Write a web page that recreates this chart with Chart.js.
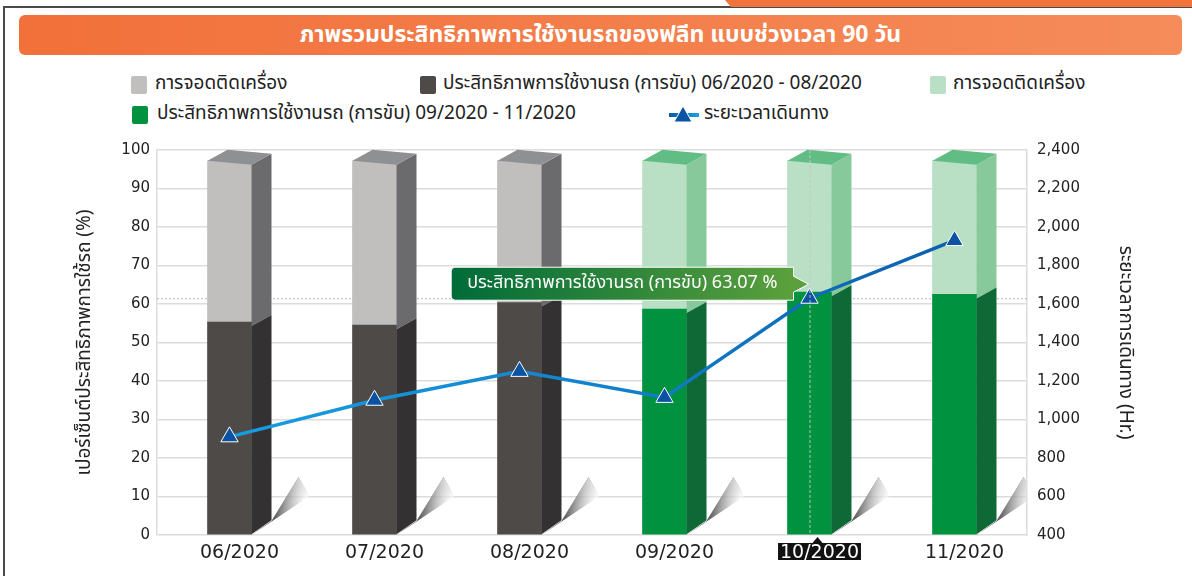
<!DOCTYPE html>
<html>
<head>
<meta charset="utf-8">
<script src="https://cdn.jsdelivr.net/npm/chart.js@4"></script>
<style>
  body { margin:0; width:1192px; height:576px; overflow:hidden; background:#fff; position:relative;
         font-family:"Noto Sans Thai","Noto Sans Thai UI","Noto Sans","DejaVu Sans",sans-serif; }
  .frame { position:absolute; left:3px; top:6px; right:0; bottom:0; border-left:2px solid #4a4a4a; border-top:2px solid #4a4a4a; }
  .tab { position:absolute; top:0; left:725px; width:467px; height:7px; background:#f0743b; clip-path:polygon(0 0,100% 0,100% 100%,6px 100%); }
  .header { position:absolute; left:19px; top:15px; width:1163px; height:40px; border-radius:6px;
            background:linear-gradient(90deg,#f2703a,#f58c5a); color:#fff; font-weight:bold; font-size:23px;
            text-align:center; line-height:40px; }
  .lg { position:absolute; font-size:19px; color:#222; white-space:nowrap; line-height:22px; }
  .sw { position:absolute; width:16px; height:18px; border-radius:2px; }
  #wrap { position:absolute; left:0; top:130px; width:1192px; height:446px; }
</style>
</head>
<body>
<div class="frame"></div>
<div class="tab"></div>
<div class="header">ภาพรวมประสิทธิภาพการใช้งานรถของฟลีท แบบช่วงเวลา 90 วัน</div>

<div class="sw" style="left:131px;top:76px;background:#c0bfbe"></div>
<div class="lg" style="left:155px;top:73px">การจอดติดเครื่อง</div>
<div class="sw" style="left:420px;top:76px;background:#4e4a47"></div>
<div class="lg" style="left:443px;top:73px">ประสิทธิภาพการใช้งานรถ (การขับ) 06/2020 - 08/2020</div>
<div class="sw" style="left:930px;top:76px;background:#b9dfc5"></div>
<div class="lg" style="left:953px;top:73px">การจอดติดเครื่อง</div>
<div class="sw" style="left:132px;top:106px;background:#00923f"></div>
<div class="lg" style="left:157px;top:103px">ประสิทธิภาพการใช้งานรถ (การขับ) 09/2020 - 11/2020</div>
<svg style="position:absolute;left:668px;top:105px" width="34" height="20">
  <defs><linearGradient id="lgl" x1="0" x2="1"><stop offset="0" stop-color="#0a5aa8"/><stop offset="1" stop-color="#1aa0e0"/></linearGradient></defs>
  <rect x="1" y="8" width="30" height="4" fill="url(#lgl)"/>
  <polygon points="15,1 24,17 6,17" fill="#0b54a3" stroke="#fff" stroke-width="1"/>
</svg>
<div class="lg" style="left:704px;top:103px">ระยะเวลาเดินทาง</div>

<div id="wrap"><canvas id="chart" width="1192" height="446"></canvas></div>

<script>
var months = ["06/2020", "07/2020", "08/2020", "09/2020", "10/2020", "11/2020"];
var drivePct = [55.3, 54.5, 60.4, 58.7, 63.07, 62.5];   // การขับ
var idlePct = [41.9, 42.7, 36.8, 38.5, 34.13, 34.7];    // การจอดติดเครื่อง
var travelHours = [910, 1100, 1250, 1115, 1630, 1930];  // ระยะเวลาเดินทาง
var splitAt = 3;     // 06-08 old period, 09-11 new period
var focusIndex = 4;  // hovered month

var thaiFont = '"Noto Sans Thai","Noto Sans Thai UI","Noto Sans","DejaVu Sans",sans-serif';
var DX = 20, DY = 11, SLANT = 4;

function part(arr, first) {
  return arr.map(function(v, i) { return (i < splitAt) === first ? v : null; });
}

function poly(ctx, pts, color) {
  ctx.beginPath();
  ctx.moveTo(pts[0][0], pts[0][1]);
  for (var i = 1; i < pts.length; i++) ctx.lineTo(pts[i][0], pts[i][1]);
  ctx.closePath();
  ctx.fillStyle = color;
  ctx.fill();
}

// side faces, top caps, floor shadows, crosshair and the hover balloon
var bar3d = {
  id: 'bar3d',
  beforeDraw: function(chart) {
    // black box behind the hovered month label (label itself is drawn white by the axis)
    var ctx = chart.ctx, area = chart.chartArea;
    var pt = chart.getDatasetMeta(4).data[focusIndex];
    var lx = chart.scales.x.getPixelForTick(focusIndex) + 10;
    var ly = area.bottom + 16;
    ctx.save();
    ctx.font = '19px "DejaVu Sans"';
    var lw = ctx.measureText(months[focusIndex]).width + 4;
    ctx.fillStyle = '#111';
    ctx.fillRect(lx - lw / 2, ly - 8, lw, 17);
    ctx.beginPath();
    ctx.moveTo(pt.x + 8, area.bottom + 2);
    ctx.lineTo(pt.x + 13, ly - 8);
    ctx.lineTo(pt.x + 3, ly - 8);
    ctx.closePath();
    ctx.fill();
    ctx.restore();
  },
  beforeDatasetsDraw: function(chart) {
    var ctx = chart.ctx, area = chart.chartArea, bottom = area.bottom;
    ctx.save();
    ctx.beginPath();
    ctx.rect(area.left, area.top, area.right - area.left - 1, area.bottom - area.top);
    ctx.clip();
    chart.data.datasets.forEach(function(ds, di) {
      if (!ds.floor) return;
      chart.getDatasetMeta(di).data.forEach(function(el, i) {
        if (ds.data[i] == null) return;
        var R = el.x + el.width / 2;
        var pts = [[R, bottom], [R + DX, bottom - 14], [R + 47, bottom - 58], [R + 58, bottom - 39]];
        // across the wedge: dark along the bar side, fading outwards
        var g = ctx.createLinearGradient(R + 26, bottom - 30, R + 44, bottom - 16);
        g.addColorStop(0, 'rgba(30,30,30,0.75)');
        g.addColorStop(0.6, 'rgba(120,120,120,0.35)');
        g.addColorStop(1, 'rgba(255,255,255,0)');
        poly(ctx, pts, g);
        // darker at the foot of the side face
        var g2 = ctx.createLinearGradient(R + 10, bottom - 4, R + 40, bottom - 45);
        g2.addColorStop(0, 'rgba(0,0,0,0.55)');
        g2.addColorStop(1, 'rgba(0,0,0,0)');
        poly(ctx, pts, g2);
        // lighter towards the far tip
        var g3 = ctx.createLinearGradient(R + 20, bottom - 20, R + 50, bottom - 55);
        g3.addColorStop(0, 'rgba(255,255,255,0)');
        g3.addColorStop(1, 'rgba(255,255,255,0.75)');
        poly(ctx, pts, g3);
      });
    });
    ctx.restore();
    // horizontal crosshair
    var pt = chart.getDatasetMeta(4).data[focusIndex];
    ctx.save();
    ctx.strokeStyle = '#b5b5b5';
    ctx.lineWidth = 1;
    ctx.setLineDash([2, 2]);
    ctx.beginPath();
    ctx.moveTo(area.left, pt.y + 0.5);
    ctx.lineTo(area.right, pt.y + 0.5);
    ctx.stroke();
    ctx.restore();
  },
  afterDatasetDraw: function(chart, args) {
    var meta = args.meta;
    if (meta.type !== 'bar') return;
    var ds = chart.data.datasets[meta.index];
    var ctx = chart.ctx, bottom = chart.chartArea.bottom;
    ctx.save();
    meta.data.forEach(function(el, i) {
      if (ds.data[i] == null) return;
      var L = el.x - el.width / 2, R = el.x + el.width / 2, top = el.y, base = el.base;
      var onFloor = Math.abs(base - bottom) < 1;
      if (!onFloor) poly(ctx, [[L, base], [R, base], [R, base + SLANT]], ds.backgroundColor);
      var bR = onFloor ? base : base + SLANT;
      var bBack = onFloor ? base - 14 : base + SLANT - DY;
      poly(ctx, [[R, top + SLANT], [R + DX, top + SLANT - DY], [R + DX, bBack], [R, bR]], ds.sideColor);
      if (ds.cap) poly(ctx, [[L, top], [R, top + SLANT], [R + DX, top + SLANT - DY], [L + DX, top - DY]], ds.topColor);
    });
    ctx.restore();
  },
  afterDraw: function(chart) {
    var ctx = chart.ctx, area = chart.chartArea;
    var pt = chart.getDatasetMeta(4).data[focusIndex];
    ctx.save();
    // vertical crosshair
    ctx.strokeStyle = 'rgba(200,200,200,0.9)';
    ctx.lineWidth = 1;
    ctx.setLineDash([3, 2]);
    ctx.beginPath();
    ctx.moveTo(pt.x + 0.5, area.top);
    ctx.lineTo(pt.x + 0.5, area.bottom);
    ctx.stroke();
    ctx.setLineDash([]);

    // tooltip balloon
    var text = 'ประสิทธิภาพการใช้งานรถ (การขับ) ' + drivePct[focusIndex].toFixed(2) + ' %';
    ctx.font = '18px ' + thaiFont;
    var w = ctx.measureText(text).width + 32;
    var tipX = pt.x - 1, tipY = pt.y - 14;
    var right = tipX - 15, left = right - w, top = tipY - 17, h = 33;
    var g = ctx.createLinearGradient(left, 0, right, 0);
    g.addColorStop(0, '#006b39');
    g.addColorStop(1, '#5ba03c');
    ctx.beginPath();
    ctx.moveTo(left + 4, top);
    ctx.lineTo(right, top);
    ctx.lineTo(right, tipY - 8);
    ctx.lineTo(tipX, tipY);
    ctx.lineTo(right, tipY + 8);
    ctx.lineTo(right, top + h);
    ctx.lineTo(left + 4, top + h);
    ctx.quadraticCurveTo(left, top + h, left, top + h - 4);
    ctx.lineTo(left, top + 4);
    ctx.quadraticCurveTo(left, top, left + 4, top);
    ctx.closePath();
    ctx.fillStyle = g;
    ctx.fill();
    ctx.strokeStyle = '#ffffff';
    ctx.lineWidth = 1;
    ctx.stroke();
    ctx.fillStyle = '#fff';
    ctx.textBaseline = 'middle';
    ctx.textAlign = 'left';
    ctx.fillText(text, left + 16, top + h / 2 + 1);
    ctx.restore();
  }
};

Chart.defaults.font.family = '"DejaVu Sans"';
Chart.defaults.color = '#222';

new Chart(document.getElementById('chart'), {
  type: 'bar',
  data: {
    labels: months,
    datasets: [
      { label: 'ประสิทธิภาพการใช้งานรถ (การขับ) 06/2020 - 08/2020', data: part(drivePct, true),
        backgroundColor: '#4e4a47', sideColor: '#333132', floor: true, order: 2 },
      { label: 'การจอดติดเครื่อง', data: part(idlePct, true),
        backgroundColor: '#c0bfbe', sideColor: '#6b6b6e', topColor: '#8f9093', cap: true, order: 2 },
      { label: 'ประสิทธิภาพการใช้งานรถ (การขับ) 09/2020 - 11/2020', data: part(drivePct, false),
        backgroundColor: '#00923f', sideColor: '#0e6937', floor: true, order: 2 },
      { label: 'การจอดติดเครื่อง', data: part(idlePct, false),
        backgroundColor: '#b9dfc5', sideColor: '#87c99b', topColor: '#62bd84', cap: true, order: 2 },
      { type: 'line', label: 'ระยะเวลาเดินทาง', data: travelHours, yAxisID: 'y1', order: 1,
        borderColor: function(c) {
          var a = c.chart.chartArea;
          if (!a) return '#1a9fe0';
          var g = c.chart.ctx.createLinearGradient(a.left, 0, a.right, 0);
          g.addColorStop(0, '#17a3e6');
          g.addColorStop(0.45, '#1486d0');
          g.addColorStop(1, '#0a58a8');
          return g;
        },
        borderWidth: 3.5, tension: 0,
        pointStyle: 'triangle', pointRadius: 10, pointHoverRadius: 10,
        pointBackgroundColor: '#0b52a2', pointBorderColor: '#ffffff', pointBorderWidth: 1 }
    ]
  },
  options: {
    responsive: false,
    devicePixelRatio: 1,
    animation: false,
    events: [],
    layout: { padding: { left: 71, right: 53, top: 20, bottom: 0 } },
    datasets: { bar: { barThickness: 44, borderWidth: 0 } },
    plugins: { legend: { display: false }, tooltip: { enabled: false } },
    scales: {
      x: {
        stacked: true,
        grid: { display: false, drawTicks: false },
        border: { display: false },
        ticks: { font: { size: 19 }, padding: 7, labelOffset: 10, maxRotation: 0,
                 color: function(c) { return c.index === focusIndex ? '#ffffff' : '#222'; } },
        afterFit: function(s) { s.height = 41; }
      },
      y: {
        stacked: true, position: 'left', min: 0, max: 100,
        ticks: { stepSize: 10, font: { size: 15 }, color: '#222', padding: 7 },
        grid: { color: '#dcdcdc', lineWidth: 1.5, drawTicks: false },
        border: { color: '#dcdcdc', width: 1.5 },
        title: { display: true, text: 'เปอร์เซ็นต์ประสิทธิภาพการใช้รถ (%)', color: '#222',
                 font: { size: 19, family: thaiFont } },
        afterFit: function(s) { s.width = 86; }
      },
      y1: {
        position: 'right', min: 400, max: 2400,
        ticks: { stepSize: 200, font: { size: 15 }, color: '#222', padding: 10 },
        grid: { drawOnChartArea: false, drawTicks: false },
        border: { color: '#dcdcdc', width: 1.5 },
        title: { display: true, text: 'ระยะเวลาการเดินทาง (Hr.)', color: '#222',
                 font: { size: 19, family: thaiFont } },
        afterFit: function(s) { s.width = 112; }
      }
    }
  },
  plugins: [bar3d]
});
</script>
</body>
</html>
